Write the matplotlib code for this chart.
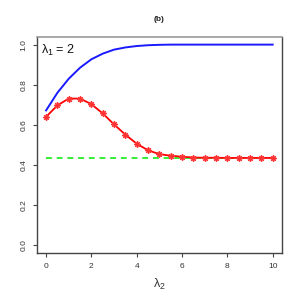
import numpy as np
import matplotlib.pyplot as plt

plt.rcParams['font.family'] = ['Liberation Sans', 'DejaVu Sans']
plt.rcParams['mathtext.fontset'] = 'custom'
plt.rcParams['mathtext.rm'] = 'Liberation Sans'
plt.rcParams['mathtext.it'] = 'Liberation Sans'

# lambda_2 grid
lam2 = [0, 0.5, 1, 1.5, 2, 2.5, 3, 3.5, 4, 4.5, 5, 5.5, 6, 6.5, 7, 7.5, 8, 8.5, 9, 9.5, 10]
# red curve with markers
red_vals = [0.640, 0.697, 0.731, 0.731, 0.703, 0.657, 0.602, 0.551, 0.506, 0.473,
            0.454, 0.446, 0.441, 0.437, 0.436, 0.436, 0.435, 0.435, 0.435, 0.435, 0.435]
# blue curve
blue_vals = [0.672, 0.760, 0.830, 0.885, 0.927, 0.955, 0.975, 0.986, 0.993, 0.997,
             0.999, 1.0, 1.0, 1.0, 1.0, 1.0, 1.0, 1.0, 1.0, 1.0, 1.0]
# green reference level
green_level = 0.433

x_ticks = [0, 2, 4, 6, 8, 10]
y_ticks = [0.0, 0.2, 0.4, 0.6, 0.8, 1.0]

fig = plt.figure(figsize=(3.01, 3.00), dpi=100, facecolor='white')
ax = fig.add_axes([0.123, 0.156, 0.813, 0.722])

ax.plot([lam2[0], lam2[-1]], [green_level, green_level], color='#33ee33',
        lw=1.4, ls=(0, (3, 2.5)), zorder=2)
ax.plot(lam2, blue_vals, color='#1a1aff', lw=1.4, zorder=3)
ax.plot(lam2, red_vals, color='red', lw=1.3, zorder=4)
# soft halo + asterisk marker
ax.plot(lam2, red_vals, ls='none', marker='o', ms=4.5, mew=0,
        mfc='#ff7777', alpha=0.6, zorder=5)
ax.plot(lam2, red_vals, ls='none', marker=(4, 2, 0), ms=4.5, mew=0.8,
        mec='#ff3333', zorder=6)
ax.plot(lam2, red_vals, ls='none', marker=(4, 2, 45), ms=4.5, mew=0.8,
        mec='#ff3333', zorder=6)

ax.set_xlim(-0.4, 10.4)
ax.set_ylim(-0.04, 1.04)
ax.set_xticks(x_ticks)
ax.set_xticklabels([str(t) for t in x_ticks])
ax.set_yticks(y_ticks)
ax.set_yticklabels([f'{t:.1f}' for t in y_ticks], rotation=90, va='center')
ax.tick_params(labelsize=6, length=3, width=0.8, color='#444444',
               labelcolor='#333333', pad=4)

for side in ['left', 'bottom', 'right']:
    ax.spines[side].set_color('#444444')
    ax.spines[side].set_linewidth(1.0)
ax.spines['top'].set_color('#999999')
ax.spines['top'].set_linewidth(1.2)

ax.text(0.015, 0.97, r'$\lambda_1$ = 2', transform=ax.transAxes,
        fontsize=9, ha='left', va='top', color='#111111')
ax.set_xlabel(r'$\lambda_2$', fontsize=9, labelpad=5, color='#333333')
fig.text(0.528, 0.935, '(b)', fontsize=6, fontweight='bold',
         ha='center', va='center', color='#222222')

plt.savefig('out.png', dpi=100)
